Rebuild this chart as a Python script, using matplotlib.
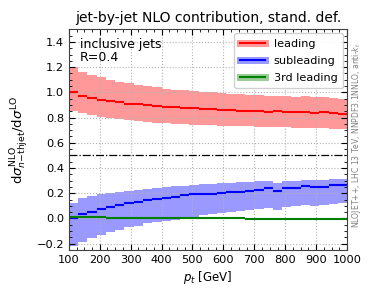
import numpy as np
import matplotlib
matplotlib.use("Agg")
import matplotlib.pyplot as plt
from matplotlib.lines import Line2D
from matplotlib.ticker import MultipleLocator

edges = np.arange(100, 1001, 30)

lead_c = [1.00, 0.975, 0.955, 0.94, 0.93, 0.92, 0.91, 0.905, 0.898, 0.892, 0.886, 0.88, 0.876, 0.872, 0.868,
          0.864, 0.86, 0.857, 0.855, 0.853, 0.85, 0.848, 0.852, 0.845, 0.842, 0.843, 0.84, 0.842, 0.835, 0.83]
lead_hi = [1.2, 1.16, 1.135, 1.118, 1.10, 1.083, 1.075, 1.062, 1.05, 1.04, 1.03, 1.022, 1.015, 1.01, 1.005,
           1.0, 0.995, 0.99, 0.985, 0.98, 0.978, 0.975, 0.975, 0.97, 0.965, 0.968, 0.962, 0.96, 0.955, 0.95]
lead_lo = [0.855, 0.84, 0.82, 0.805, 0.795, 0.785, 0.778, 0.772, 0.766, 0.76, 0.755, 0.75, 0.748, 0.745, 0.742,
           0.74, 0.737, 0.735, 0.733, 0.73, 0.728, 0.726, 0.728, 0.722, 0.72, 0.72, 0.718, 0.717, 0.713, 0.71]

sub_c = [0.005, 0.032, 0.054, 0.075, 0.094, 0.11, 0.12, 0.134, 0.144, 0.154, 0.162, 0.174, 0.182, 0.19, 0.19,
         0.195, 0.205, 0.207, 0.21, 0.215, 0.226, 0.24, 0.218, 0.238, 0.24, 0.256, 0.25, 0.252, 0.265, 0.265]
sub_hi = [0.12, 0.165, 0.178, 0.192, 0.2, 0.213, 0.221, 0.229, 0.237, 0.243, 0.251, 0.259, 0.261, 0.267, 0.272,
          0.275, 0.28, 0.283, 0.287, 0.29, 0.295, 0.3, 0.285, 0.298, 0.3, 0.305, 0.303, 0.305, 0.31, 0.31]
sub_lo = [-0.22, -0.19, -0.155, -0.128, -0.107, -0.088, -0.07, -0.056, -0.04, -0.03, -0.021, -0.011, 0.0, 0.011, 0.025,
          0.035, 0.045, 0.052, 0.06, 0.068, 0.075, 0.085, 0.066, 0.09, 0.095, 0.105, 0.1, 0.105, 0.115, 0.12]

third_c = [0.012, 0.01, 0.009, 0.008, 0.007, 0.006, 0.005, 0.004, 0.003, 0.003, 0.002, 0.002, 0.001, 0.001, 0.001,
           0.0, 0.0, 0.0, 0.0, -0.001, -0.001, -0.001, -0.001, -0.001, -0.001, -0.001, -0.001, -0.001, -0.001, -0.001]
third_hi = [v + 0.008 for v in third_c]
third_lo = [v - 0.008 for v in third_c]

labels = ["leading", "subleading", "3rd leading"]
colors = ["red", "blue", "green"]

fig = plt.figure(figsize=(3.74, 2.99), dpi=100)
ax = fig.add_axes([0.184, 0.164, 0.744, 0.738])

handles = []
for c, hi, lo, col, lab in [(lead_c, lead_hi, lead_lo, "red", labels[0]),
                            (sub_c, sub_hi, sub_lo, "blue", labels[1]),
                            (third_c, third_hi, third_lo, "green", labels[2])]:
    ax.fill_between(edges, list(lo) + [lo[-1]], list(hi) + [hi[-1]], step="post",
                    color=col, alpha=0.4, linewidth=0)
    ax.hlines(c, edges[:-1], edges[1:], colors=col, linewidth=1.5)
    handles.append((Line2D([], [], color=col, alpha=0.4, linewidth=5),
                    Line2D([], [], color=col, linewidth=1.5)))

ax.axhline(0.5, color="black", linestyle="-.", linewidth=0.9)

ax.set_xlim(100, 1000)
ax.set_ylim(-0.25, 1.5)
ax.xaxis.set_major_locator(MultipleLocator(100))
ax.xaxis.set_minor_locator(MultipleLocator(25))
ax.yaxis.set_major_locator(MultipleLocator(0.2))
ax.yaxis.set_minor_locator(MultipleLocator(0.05))
ax.tick_params(which="both", direction="in", top=True, right=True, labelsize=8.2)
ax.tick_params(which="major", length=4)
ax.tick_params(which="minor", length=2)
ax.grid(True, which="major", linestyle=":", color="0.7", linewidth=0.8)
for s in ax.spines.values():
    s.set_color("0.25")

ax.set_title("jet-by-jet NLO contribution, stand. def.", fontsize=10, pad=5)
ax.set_xlabel(r"$p_t$ [GeV]", fontsize=8.5, labelpad=3)
ax.set_ylabel(r"$\mathrm{d}\sigma^{\mathrm{NLO}}_{n\mathrm{-th jet}}/\mathrm{d}\sigma^{\mathrm{LO}}$", fontsize=9.5)

ax.text(0.04, 0.96, "inclusive jets\nR=0.4", transform=ax.transAxes, va="top", ha="left",
        fontsize=9, linespacing=1.0)

leg = ax.legend(handles, labels, loc="upper right", fontsize=8.1, fancybox=True, framealpha=0.9,
                handlelength=2.2, borderaxespad=0.35, labelspacing=0.62, borderpad=0.5)

ax.text(1.035, 0.52, r"NLOJET++, LHC 13 TeV, NNPDF3.1NNLO, anti-$k_t$", transform=ax.transAxes,
        rotation=90, va="center", ha="center", fontsize=5.5, color="0.5")

fig.savefig("out.png", dpi=100)
